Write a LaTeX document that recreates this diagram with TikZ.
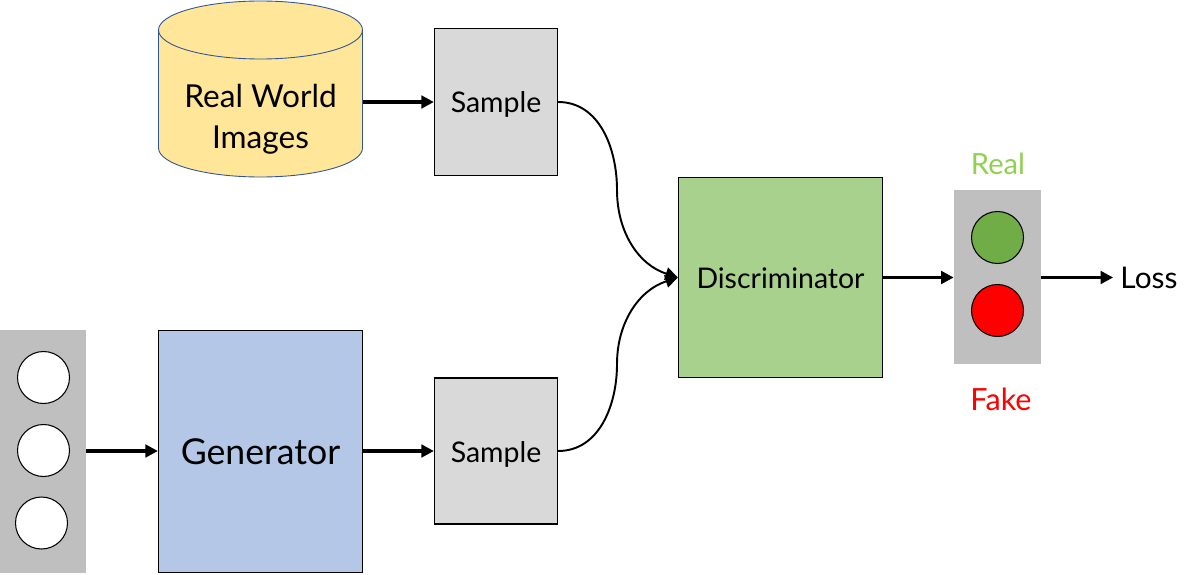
\documentclass[tikz,border=0pt]{standalone}
\usepackage{fontspec}
\setmainfont{Lato}
\usetikzlibrary{positioning, arrows.meta}
\definecolor{dbfill}{HTML}{FFE699}
\definecolor{dbline}{HTML}{2F5597}
\definecolor{samplefill}{HTML}{D9D9D9}
\definecolor{discfill}{HTML}{A9D18E}
\definecolor{genfill}{HTML}{B4C7E7}
\definecolor{panelfill}{HTML}{BFBFBF}
\definecolor{realdot}{HTML}{70AD47}
\definecolor{realtext}{HTML}{92D050}
\tikzset{
	block/.style={draw=black, line width=0.7pt, inner sep=0pt, align=center},
	smalltext/.style={font=\fontsize{16.2pt}{18pt}\selectfont, text height=0.52cm, text depth=0.08cm},
	panel/.style={fill=panelfill, inner sep=0pt},
	dot/.style={circle, draw=black, line width=0.6pt, inner sep=0pt, minimum size=1.04cm},
	flow/.style={line width=1.8pt, -{Triangle[length=0.25cm, width=0.25cm]}},
	curveline/.style={line width=1.1pt},
	curvetip/.style={line width=1.1pt, -{Triangle[length=0.25cm, width=0.25cm]}}
}
\begin{document}
\begin{tikzpicture}[x=0.02cm, y=-0.02cm]
	\useasboundingbox (0, 0) rectangle (1195, 574);
	% real images branch
	\draw[draw=dbline, line width=0.5pt, fill=dbfill] (158.5, 30) -- (158.5, 148)
		arc[start angle=180, end angle=360, x radius=102, y radius=-29] -- (362.5, 30)
		arc[start angle=0, end angle=180, x radius=102, y radius=-29] -- cycle;
	\draw[draw=dbline, line width=0.5pt] (158.5, 30) arc[start angle=180, end angle=360, x radius=102, y radius=-29];
	\node[align=center, inner sep=0pt, minimum width=4.08cm, font=\fontsize{18pt}{23.2pt}\selectfont] (realdb) at (260.5, 119) {Real World\\Images};
	\node[block, smalltext, fill=samplefill, minimum width=2.46cm, minimum height=2.94cm] (sampleA) at (496, 102) {Sample};
	% generator branch
	\node[panel, minimum width=1.72cm, minimum height=4.86cm] (noise) at (43, 451.5) {};
	\node[dot, fill=white] (noiseA) at (43.5, 377.5) {};
	\node[dot, fill=white] (noiseB) at (43.5, 450.5) {};
	\node[dot, fill=white] (noiseC) at (41.5, 523) {};
	\node[block, fill=genfill, minimum width=4.08cm, minimum height=4.85cm, font=\fontsize{20.3pt}{22pt}\selectfont, text height=0.66cm, text depth=0.14cm] (gen) at (260.5, 451.5) {Generator};
	\node[block, smalltext, fill=samplefill, minimum width=2.46cm, minimum height=2.92cm] (sampleB) at (496, 451) {Sample};
	% discriminator and output
	\node[block, smalltext, fill=discfill, minimum width=4.08cm, minimum height=4.01cm] (disc) at (780.5, 277.5) {Discriminator};
	\node[panel, minimum width=1.74cm, minimum height=3.48cm] (out) at (997.5, 277) {};
	\node[dot, fill=realdot] (outA) at (997.5, 237.5) {};
	\node[dot, fill=red] (outB) at (997.5, 310.5) {};
	\node[text=realtext, font=\fontsize{16.6pt}{18pt}\selectfont] (real) at (998, 164) {Real};
	\node[text=red, font=\fontsize{17.4pt}{18pt}\selectfont] (fake) at (1001, 399) {Fake};
	\node[font=\fontsize{17pt}{18pt}\selectfont, inner sep=0pt] (loss) at (1149, 277.5) {Loss};
	\coordinate (upmid) at (617, 190);
	\coordinate (lowmid) at (617, 364);

	\draw[flow] (realdb.east |- sampleA.west) -- (sampleA.west);
	\draw[flow] (noise.east |- sampleB.west) -- (gen.west |- sampleB.west);
	\draw[flow] (gen.east |- sampleB.west) -- (sampleB.west);
	\draw[curveline] (sampleA.east) to[out=0, in=90] (upmid);
	\draw[curvetip] (upmid) to[out=-90, in=162] (disc.west);
	\draw[curveline] (sampleB.east) to[out=0, in=-90] (lowmid);
	\draw[curvetip] (lowmid) to[out=90, in=198] (disc.west);
	\draw[flow] (disc.east) -- (out.west |- disc.east);
	\draw[flow] (out.east |- disc.east) -- ([xshift=-0.14cm]loss.west);
\end{tikzpicture}
\end{document}
